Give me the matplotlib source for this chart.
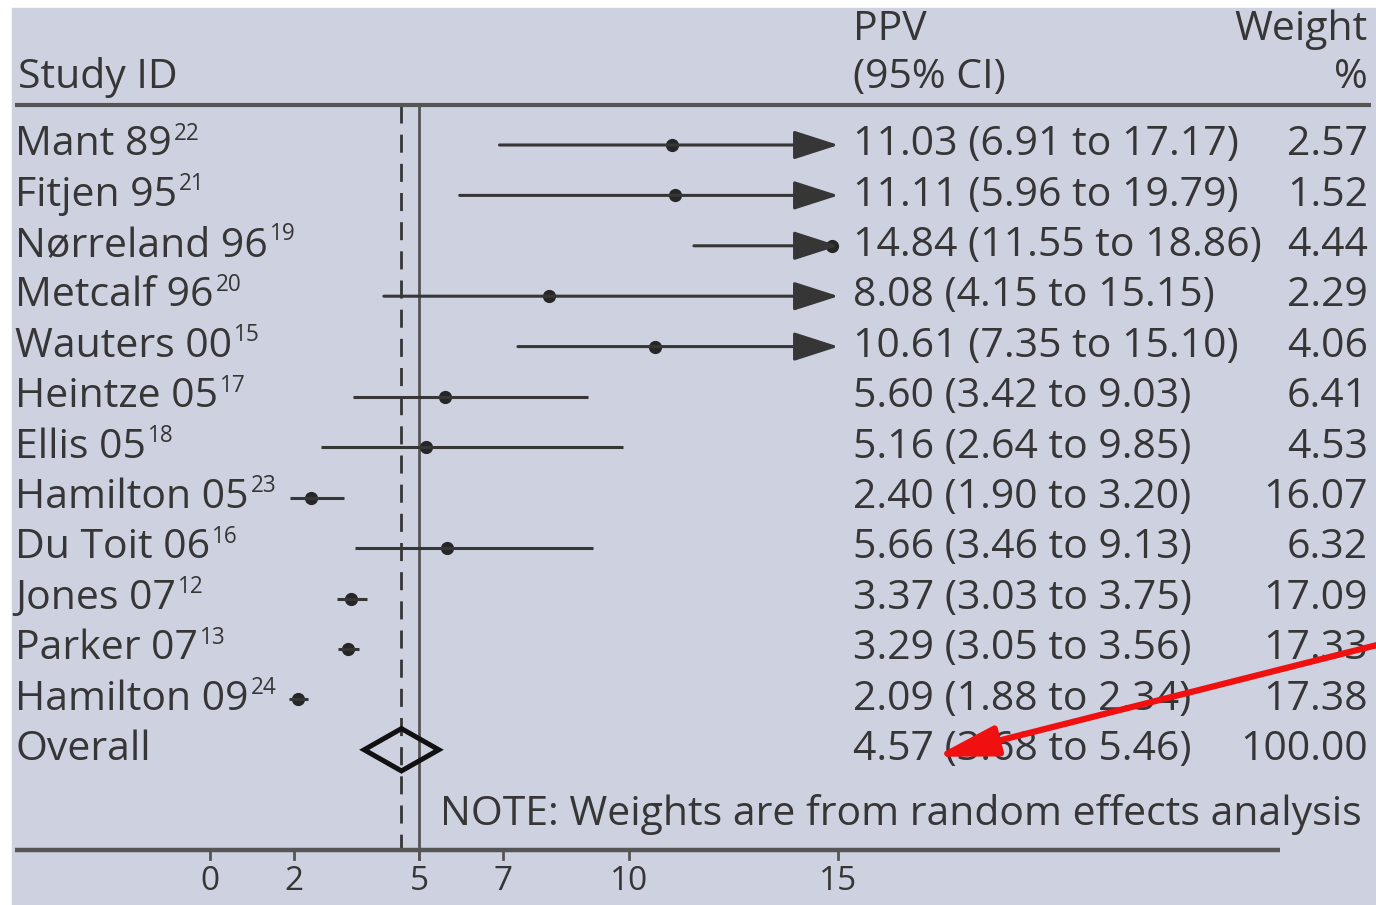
import matplotlib.pyplot as plt
import numpy as np

# data
studies = ["Mant 89", "Fitjen 95", "Nørreland 96", "Metcalf 96", "Wauters 00",
           "Heintze 05", "Ellis 05", "Hamilton 05", "Du Toit 06", "Jones 07",
           "Parker 07", "Hamilton 09"]
refs = ["22", "21", "19", "20", "15", "17", "18", "23", "16", "12", "13", "24"]
ppv = [11.03, 11.11, 14.84, 8.08, 10.61, 5.60, 5.16, 2.40, 5.66, 3.37, 3.29, 2.09]
ci_low = [6.91, 5.96, 11.55, 4.15, 7.35, 3.42, 2.64, 1.90, 3.46, 3.03, 3.05, 1.88]
ci_high = [17.17, 19.79, 18.86, 15.15, 15.10, 9.03, 9.85, 3.20, 9.13, 3.75, 3.56, 2.34]
weights = [2.57, 1.52, 4.44, 2.29, 4.06, 6.41, 4.53, 16.07, 6.32, 17.09, 17.33, 17.38]
overall = (4.57, 3.68, 5.46, 100.00)
null_value = 5
xticks = [0, 2, 5, 7, 10, 15]

plt.rcParams["font.family"] = ["Open Sans", "DejaVu Sans"]

bg = "#ced2e0"
ink = "#363636"
fs = 29.5

fig = plt.figure(figsize=(13.76, 9.05), dpi=100)
fig.patch.set_facecolor("white")
ax = fig.add_axes([0, 0, 1, 1])
ax.set_xlim(-5.012, 27.83)
ax.set_ylim(15.08, -2.877)
ax.axis("off")
# lavender panel
ax.add_patch(plt.Rectangle((-4.726, -2.72), 40, 20, color=bg, zorder=0))

xmax = max(xticks)
n = len(studies)
rows = np.arange(n)

for i in rows:
    lo, hi, p = ci_low[i], ci_high[i], ppv[i]
    if hi > xmax:
        ax.annotate("", xy=(xmax, i), xytext=(lo, i),
                    arrowprops=dict(arrowstyle="-|>,head_length=1.4,head_width=0.45",
                                    mutation_scale=20, lw=2.2, color=ink,
                                    shrinkA=0, shrinkB=0), zorder=3)
    else:
        ax.plot([lo, hi], [i, i], color=ink, lw=2.2, zorder=3, solid_capstyle="butt")
    ax.plot(p, i, "o", color="#262626", ms=8.5, zorder=2)
    name = ax.text(-4.65, i, studies[i], fontsize=fs, color=ink, va="center", ha="left")
    ax.annotate(refs[i], xy=(1, 0.78), xycoords=name, xytext=(1.5, 0),
                textcoords="offset points", fontsize=fs * 0.55, color=ink,
                va="center", ha="left")
    ax.text(15.35, i, f"{p:.2f} ({lo:.2f} to {hi:.2f})", fontsize=fs, color=ink,
            va="center", ha="left")
    ax.text(27.64, i, f"{weights[i]:.2f}", fontsize=fs, color=ink,
            va="center", ha="right")

# overall diamond
o_row = n
op, olo, ohi, ow = overall
ax.fill([olo, op, ohi, op, olo], [o_row, o_row - 0.42, o_row, o_row + 0.42, o_row],
        facecolor="none", edgecolor="#111111", lw=3.6, zorder=4)
ax.text(-4.65, o_row, "Overall", fontsize=fs, color=ink, va="center", ha="left")
ax.text(15.35, o_row, f"{op:.2f} ({olo:.2f} to {ohi:.2f})", fontsize=fs, color=ink,
        va="center", ha="left")
ax.text(27.64, o_row, f"{ow:.2f}", fontsize=fs, color=ink, va="center", ha="right")

# headers
ax.text(-4.58, -1.33, "Study ID", fontsize=fs, color=ink, va="center", ha="left")
ax.text(15.35, -2.28, "PPV", fontsize=fs, color=ink, va="center", ha="left")
ax.text(15.35, -1.33, "(95% CI)", fontsize=fs, color=ink, va="center", ha="left")
ax.text(27.64, -2.28, "Weight", fontsize=fs, color=ink, va="center", ha="right")
ax.text(27.64, -1.33, "%", fontsize=fs, color=ink, va="center", ha="right")
ax.plot([-4.65, 27.70], [-0.79, -0.79], color="#555555", lw=3, solid_capstyle="butt")

# reference lines
ax.plot([op, op], [-0.79, 13.99], color=ink, lw=2, ls=(0, (6.5, 4)), zorder=1)
ax.plot([null_value, null_value], [-0.79, 14.17], color="#555555", lw=2, zorder=1)

ax.text(5.49, 13.29, "NOTE: Weights are from random effects analysis", fontsize=fs,
        color=ink, va="center", ha="left")

# x axis
ax.plot([-4.65, 25.53], [13.99, 13.99], color="#555555", lw=3.2, solid_capstyle="butt")
for t in xticks:
    ax.plot([t, t], [13.99, 14.17], color="#555555", lw=2)
    ax.text(t, 14.78, str(t), fontsize=24, color=ink, va="baseline", ha="center")

# red pointer annotation
ax.annotate("", xy=(17.30, 12.14), xycoords="data",
            xytext=(1.0, 0.287), textcoords="figure fraction",
            arrowprops=dict(arrowstyle="-|>,head_length=1.7,head_width=0.42",
                            mutation_scale=22, lw=4.5, color="#f01010",
                            shrinkA=0, shrinkB=0), zorder=6)

fig.savefig("out.png", dpi=100, facecolor=fig.get_facecolor())
